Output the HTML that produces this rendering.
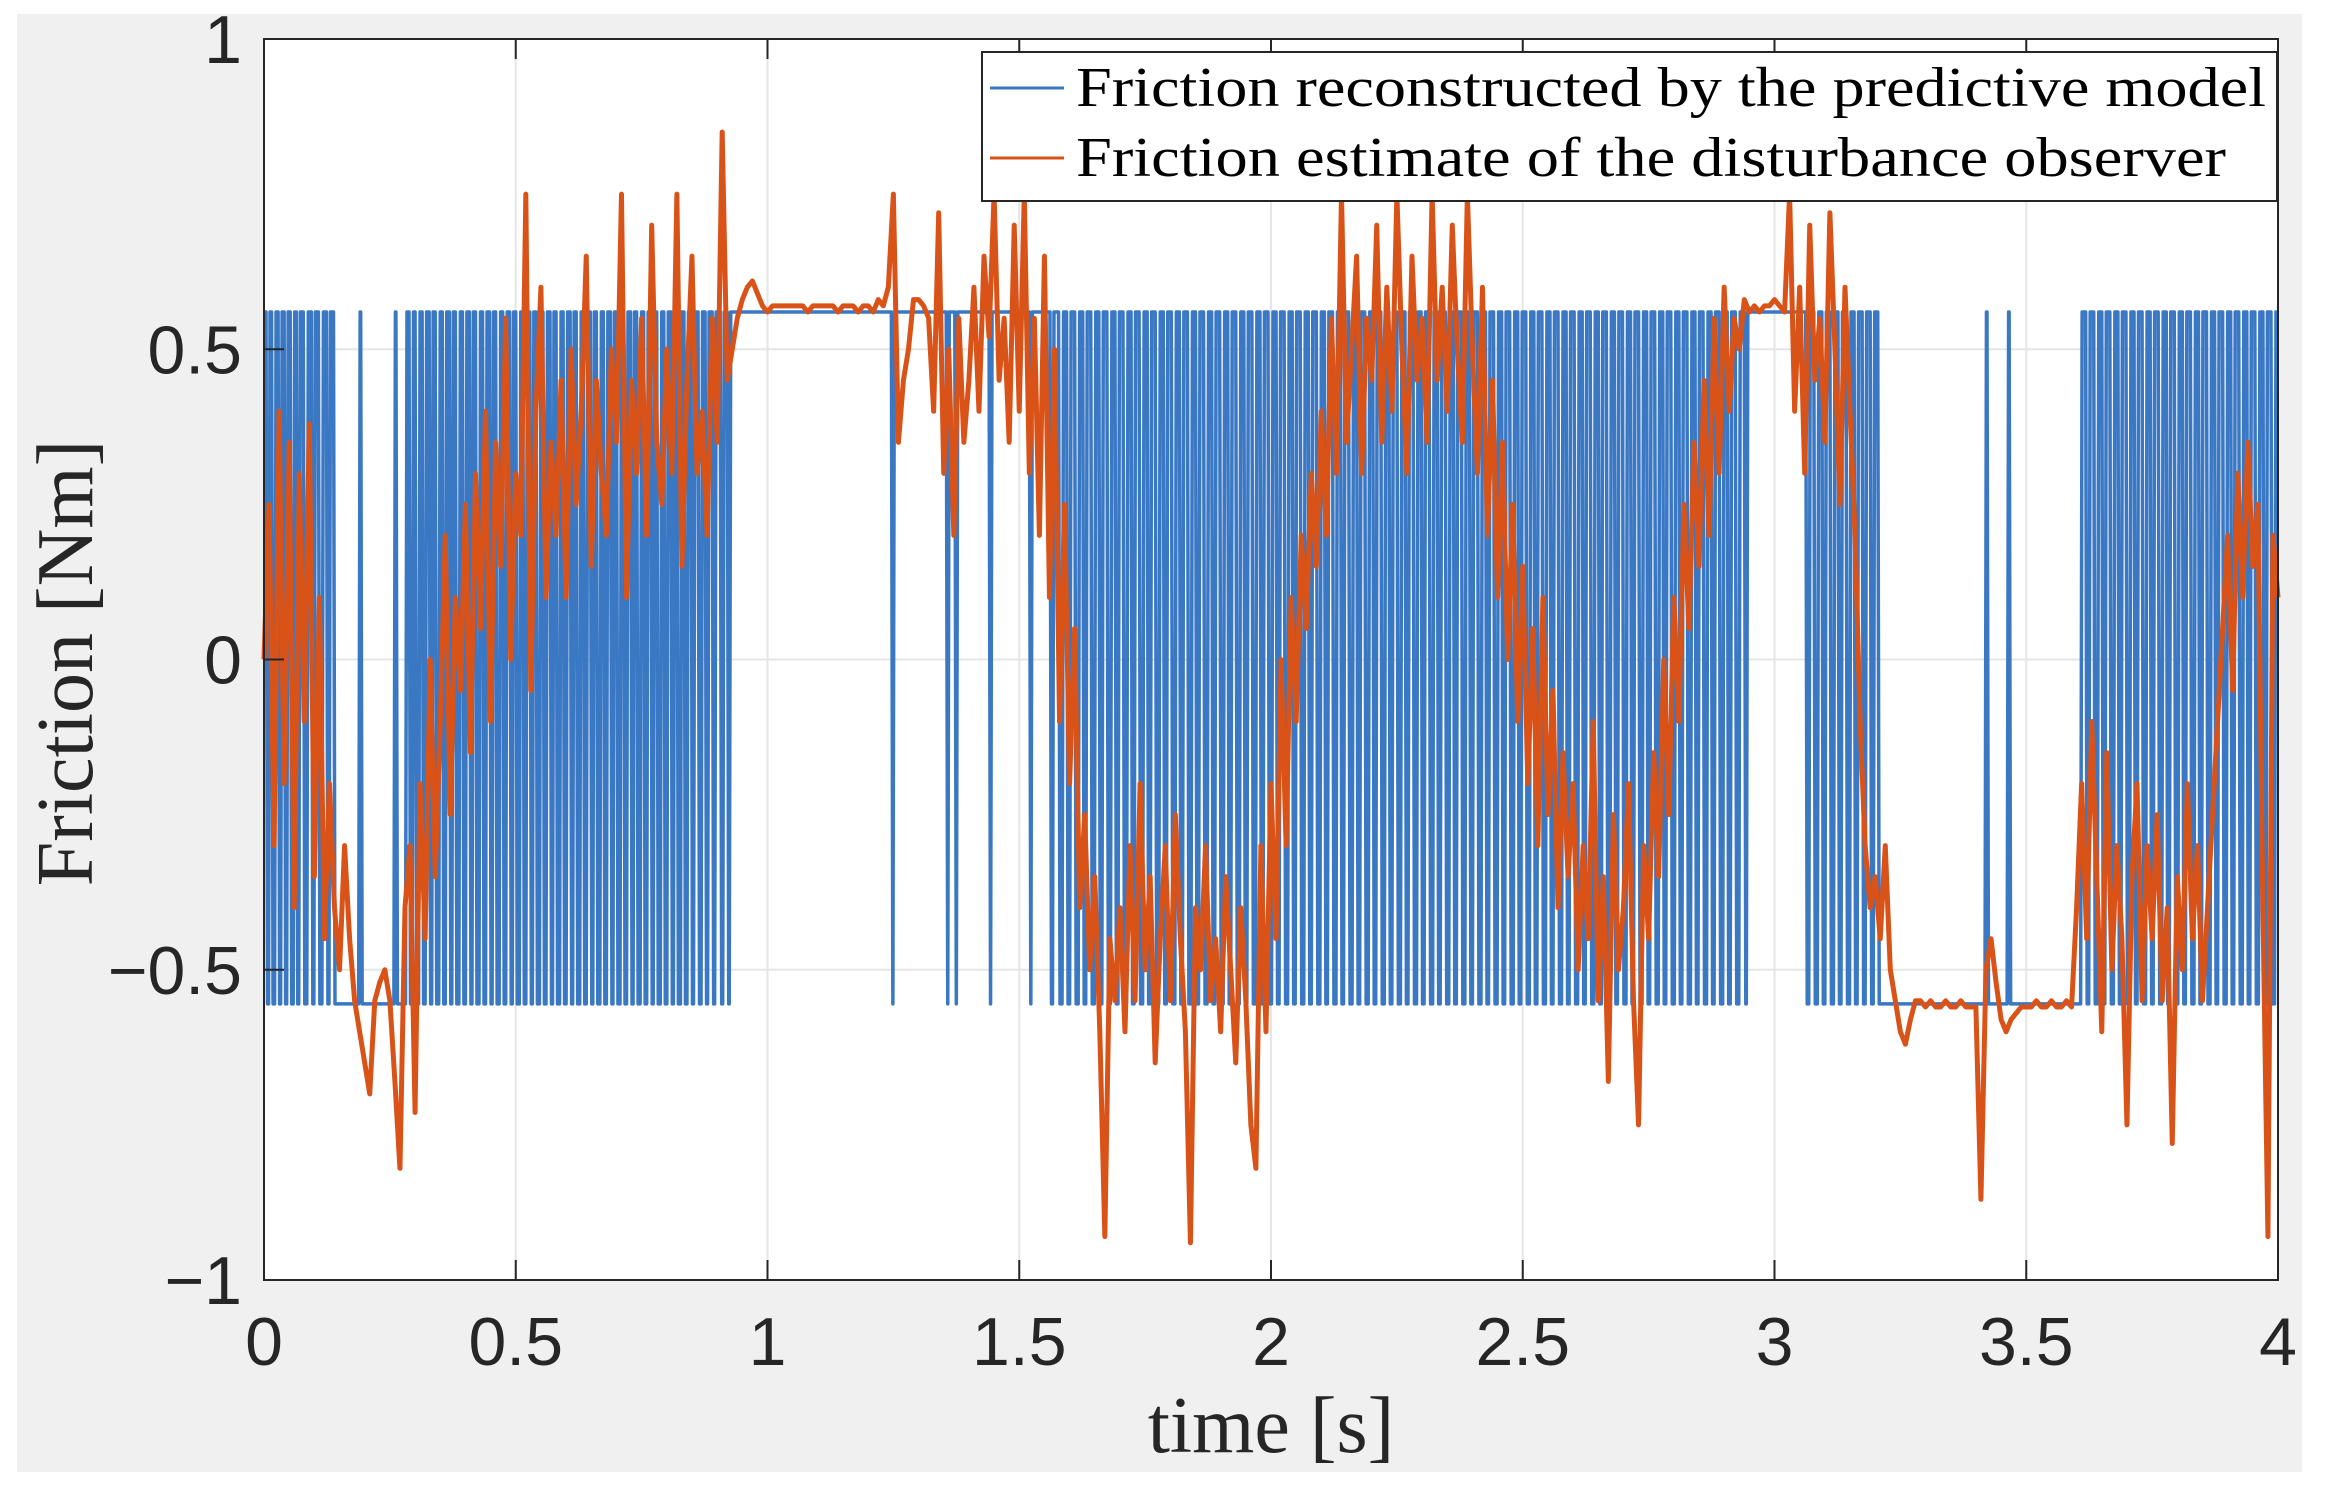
<!DOCTYPE html>
<html><head><meta charset="utf-8"><style>
html,body{margin:0;padding:0;background:#fff;}
svg{display:block;}
</style></head><body>
<svg id="chart" width="2329" height="1490" xmlns="http://www.w3.org/2000/svg">
<rect x="17" y="14" width="2285" height="1458" fill="#f0f0f0"/>
<rect x="264" y="39" width="2014" height="1241" fill="#ffffff"/>
<g id="grid"></g>
<g id="series"></g>
<g id="axes"></g>
<text x="1271" y="1452" text-anchor="middle" font-family="Liberation Serif, serif" font-size="80" fill="#262626">time [s]</text>
<text transform="translate(92,663) rotate(-90)" text-anchor="middle" font-family="Liberation Serif, serif" font-size="80" fill="#262626">Friction [Nm]</text>
<g>
<rect x="982" y="52" width="1295" height="149" fill="#fff" stroke="#262626" stroke-width="2"/>
<line x1="990" y1="88" x2="1064" y2="88" stroke="#3a78c4" stroke-width="3"/>
<text x="1076" y="106" font-family="Liberation Serif, serif" font-size="56" textLength="1190" lengthAdjust="spacingAndGlyphs" fill="#000">Friction reconstructed by the predictive model</text>
<line x1="990" y1="158" x2="1064" y2="158" stroke="#d95319" stroke-width="3"/>
<text x="1076" y="176" font-family="Liberation Serif, serif" font-size="56" textLength="1150" lengthAdjust="spacingAndGlyphs" fill="#000">Friction estimate of the disturbance observer</text>
</g>
</svg>
<script>
const xTicks = [0, 0.5, 1, 1.5, 2, 2.5, 3, 3.5, 4];
const xTickLabels = ["0","0.5","1","1.5","2","2.5","3","3.5","4"];
const yTicks = [1, 0.5, 0, -0.5, -1];
const yTickLabels = ["1","0.5","0","\u22120.5","\u22121"];
const blueHigh = 0.56;
const blueLow = -0.555;
// intervals (start,end pairs) where the predictive-model friction is at the low level
const blueLowIntervals = [
0.004,0.009,0.015,0.021,0.028,0.033,0.040,0.045,0.052,0.058,0.064,0.069,0.078,0.085,0.094,0.099,0.108,0.115,0.124,0.129,0.138,0.188,0.192,0.258,0.262,0.281,
0.288,0.294,0.300,0.307,0.314,0.320,0.328,0.333,0.340,0.347,0.354,0.360,0.368,0.373,0.380,0.387,0.394,0.400,0.408,0.413,0.420,0.427,0.434,0.440,0.448,0.453,0.460,0.467,0.474,0.480,0.488,0.493,0.500,0.507,0.514,0.520,0.528,0.533,0.540,0.547,0.554,0.560,0.568,0.573,0.580,0.587,0.594,0.600,0.608,0.613,0.620,0.627,0.634,0.640,0.648,0.653,0.660,0.667,0.674,0.680,0.688,0.693,0.700,0.707,0.714,0.720,0.728,0.733,0.740,0.747,0.754,0.760,0.768,0.773,0.780,0.787,0.794,0.800,0.808,0.813,0.820,0.827,0.834,0.840,0.848,0.853,0.862,0.868,0.876,0.881,0.890,0.895,0.906,0.911,0.920,0.924,
1.246,1.249,1.355,1.358,1.372,1.375,1.440,1.443,1.520,1.523,
1.561,1.566,1.578,1.585,1.594,1.600,1.610,1.617,1.626,1.632,1.642,1.649,1.658,1.664,1.674,1.681,1.690,1.696,1.706,1.713,1.722,1.728,1.738,1.745,1.754,1.760,1.770,1.777,1.786,1.792,1.802,1.809,1.818,1.824,1.834,1.841,1.850,1.856,1.866,1.873,1.882,1.888,1.898,1.905,1.914,1.920,1.930,1.937,1.946,1.952,1.962,1.969,1.978,1.984,1.994,2.001,
2.010,2.016,2.026,2.033,2.042,2.048,2.058,2.065,2.074,2.080,2.090,2.097,2.106,2.112,2.122,2.129,2.138,2.144,2.154,2.161,2.170,2.176,2.186,2.193,2.202,2.208,2.218,2.225,2.234,2.240,2.250,2.257,2.266,2.272,2.282,2.289,2.298,2.304,2.314,2.321,2.330,2.336,2.346,2.353,2.362,2.368,2.378,2.385,2.394,2.400,2.410,2.417,2.426,2.432,2.442,2.449,2.458,2.464,2.474,2.481,2.490,2.496,
2.506,2.513,2.522,2.528,2.538,2.545,2.554,2.560,2.570,2.577,2.586,2.592,2.602,2.609,2.618,2.624,2.634,2.641,2.650,2.656,2.666,2.673,2.682,2.688,2.698,2.705,2.714,2.720,2.730,2.737,2.746,2.752,2.762,2.769,2.778,2.784,2.794,2.801,2.810,2.816,2.826,2.833,2.842,2.848,2.858,2.865,2.874,2.880,2.890,2.897,2.906,2.912,2.922,2.929,2.940,2.944,
3.062,3.068,3.078,3.085,3.094,3.100,3.110,3.117,3.126,3.132,3.142,3.149,3.158,3.164,3.174,3.180,3.190,3.196,3.205,3.418,3.422,3.462,3.466,3.608,
3.618,3.624,3.634,3.641,3.650,3.656,3.666,3.673,3.682,3.688,3.698,3.705,3.714,3.720,3.730,3.737,3.746,3.752,3.762,3.769,3.778,3.784,3.794,3.801,3.810,3.816,3.826,3.833,3.842,3.848,3.858,3.865,3.874,3.880,3.890,3.897,3.906,3.912,3.922,3.929,3.938,3.944,3.954,3.961,3.970,3.976,3.986,3.993
];
const orangeStep = 0.01;
const orangeValues = [
0.00,0.25,-0.30,0.40,-0.20,0.35,-0.40,0.30,-0.10,0.38,
-0.35,0.10,-0.45,-0.20,-0.40,-0.50,-0.30,-0.45,-0.55,-0.60,
-0.65,-0.70,-0.55,-0.52,-0.50,-0.55,-0.68,-0.82,-0.40,-0.30,
-0.73,-0.20,-0.45,0.00,-0.35,-0.10,0.20,-0.25,0.10,-0.05,
0.25,-0.15,0.30,0.05,0.40,-0.10,0.35,0.15,0.55,0.00,
0.30,0.20,0.75,-0.05,0.40,0.60,0.10,0.35,0.20,0.45,
0.10,0.50,0.25,0.40,0.65,0.15,0.45,0.30,0.20,0.50,
0.35,0.75,0.10,0.45,0.30,0.55,0.20,0.70,0.35,0.25,
0.50,0.30,0.75,0.15,0.45,0.65,0.30,0.40,0.20,0.55,
0.35,0.85,0.45,0.50,0.55,0.58,0.60,0.61,0.59,0.57,
0.56,0.57,0.57,0.57,0.57,0.57,0.57,0.57,0.56,0.57,
0.57,0.57,0.57,0.57,0.56,0.57,0.57,0.57,0.56,0.57,
0.57,0.56,0.58,0.57,0.60,0.75,0.35,0.45,0.50,0.58,
0.58,0.57,0.55,0.40,0.72,0.30,0.50,0.20,0.55,0.35,
0.45,0.60,0.40,0.65,0.52,0.75,0.45,0.55,0.35,0.70,
0.40,0.75,0.30,0.55,0.20,0.65,0.10,0.50,-0.10,0.25,
-0.20,0.05,-0.40,-0.25,-0.50,-0.35,-0.60,-0.93,-0.45,-0.55,
-0.40,-0.60,-0.30,-0.55,-0.20,-0.50,-0.35,-0.65,-0.45,-0.30,
-0.55,-0.25,-0.45,-0.60,-0.94,-0.40,-0.50,-0.30,-0.55,-0.45,
-0.60,-0.35,-0.50,-0.65,-0.40,-0.55,-0.75,-0.82,-0.30,-0.60,
-0.20,-0.45,0.00,-0.30,0.10,-0.10,0.20,0.05,0.30,0.15,
0.40,0.20,0.55,0.30,0.75,0.35,0.50,0.65,0.30,0.55,
0.45,0.70,0.35,0.60,0.40,0.75,0.50,0.30,0.65,0.45,
0.55,0.35,0.75,0.45,0.60,0.40,0.70,0.50,0.35,0.75,
0.50,0.30,0.60,0.20,0.45,0.10,0.35,0.00,0.25,-0.10,
0.15,-0.20,0.05,-0.30,0.10,-0.25,-0.05,-0.40,-0.15,-0.35,
-0.20,-0.50,-0.30,-0.45,-0.10,-0.55,-0.35,-0.68,-0.25,-0.50,
-0.40,-0.20,-0.55,-0.75,-0.30,-0.45,-0.15,-0.35,0.00,-0.25,
0.10,-0.10,0.25,0.05,0.35,0.15,0.45,0.20,0.55,0.30,
0.60,0.40,0.55,0.50,0.58,0.56,0.57,0.56,0.57,0.57,
0.58,0.57,0.56,0.75,0.40,0.60,0.30,0.70,0.45,0.55,
0.35,0.72,0.50,0.25,0.60,0.40,0.20,-0.10,-0.30,-0.40,
-0.35,-0.45,-0.30,-0.50,-0.55,-0.60,-0.62,-0.58,-0.55,-0.55,
-0.56,-0.55,-0.56,-0.56,-0.55,-0.56,-0.56,-0.55,-0.56,-0.56,
-0.56,-0.87,-0.50,-0.45,-0.52,-0.58,-0.60,-0.58,-0.57,-0.56,
-0.56,-0.56,-0.55,-0.56,-0.56,-0.55,-0.56,-0.56,-0.55,-0.56,
-0.40,-0.20,-0.45,-0.10,-0.35,-0.60,-0.15,-0.50,-0.30,-0.45,
-0.75,-0.35,-0.20,-0.55,-0.30,-0.45,-0.25,-0.55,-0.40,-0.78,
-0.35,-0.50,-0.20,-0.45,-0.30,-0.55,-0.40,-0.25,-0.10,0.05,
0.20,-0.05,0.30,0.10,0.35,0.15,0.25,-0.40,-0.93,0.20,
0.10
];

const L=264,R=2278,T=39,B=1280;
const xMin=0,xMax=4,yMin=-1,yMax=1;
function xs(v){return L+(v-xMin)/(xMax-xMin)*(R-L);}
function ys(v){return B-(v-yMin)/(yMax-yMin)*(B-T);}
const NS="http://www.w3.org/2000/svg";
function mk(tag,attrs,parent){const e=document.createElementNS(NS,tag);for(const k in attrs)e.setAttribute(k,attrs[k]);parent.appendChild(e);return e;}
const grid=document.getElementById('grid'),axes=document.getElementById('axes'),series=document.getElementById('series');

xTicks.forEach((t,i)=>{
  const g=mk('line',{x1:xs(t),x2:xs(t),y1:T,y2:B,stroke:'#e5e5e5','stroke-width':2},grid);
  
  
  const tk=mk('line',{x1:xs(t),x2:xs(t),y1:B,y2:B-20,stroke:'#262626','stroke-width':2},axes);
  
  
  const tk2=mk('line',{x1:xs(t),x2:xs(t),y1:T,y2:T+20,stroke:'#262626','stroke-width':2},axes);
  
  
  const lb=mk('text',{x:xs(t),y:1365,'text-anchor':'middle','font-family':'Liberation Sans, sans-serif','font-size':68,fill:'#262626'},axes);
  lb.textContent=xTickLabels[i];
  
  
});
yTicks.forEach((t,i)=>{
  const g=mk('line',{x1:L,x2:R,y1:ys(t),y2:ys(t),stroke:'#e5e5e5','stroke-width':2},grid);
  
  
  const tk=mk('line',{x1:L,x2:L+20,y1:ys(t),y2:ys(t),stroke:'#262626','stroke-width':2},axes);
  
  
  const lb=mk('text',{x:242,y:ys(t)+24,'text-anchor':'end','font-family':'Liberation Sans, sans-serif','font-size':68,fill:'#262626'},axes);
  lb.textContent=yTickLabels[i];
  
  
});
const box=mk('rect',{x:L,y:T,width:R-L,height:B-T,fill:'none',stroke:'#262626','stroke-width':2},axes);



let d='M'+xs(0)+','+ys(blueHigh);
for(let i=0;i<blueLowIntervals.length;i+=2){
  const s=blueLowIntervals[i],e=blueLowIntervals[i+1];
  d+=' L'+xs(s)+','+ys(blueHigh)+' L'+(xs(s)+1.5)+','+ys(blueLow)+' L'+xs(e)+','+ys(blueLow)+' L'+(xs(e)+1.5)+','+ys(blueHigh);
}
d+=' L'+xs(4)+','+ys(blueHigh);
const blue=mk('path',{d:d,fill:'none',stroke:'#3a78c4','stroke-width':3.5,'stroke-linejoin':'round'},series);



let d2='';
orangeValues.forEach((v,i)=>{d2+=(i?' L':'M')+xs(i*orangeStep)+','+ys(v);});
const orange=mk('path',{d:d2,fill:'none',stroke:'#d95319','stroke-width':5,'stroke-linejoin':'round'},series);


</script>
</body></html>
